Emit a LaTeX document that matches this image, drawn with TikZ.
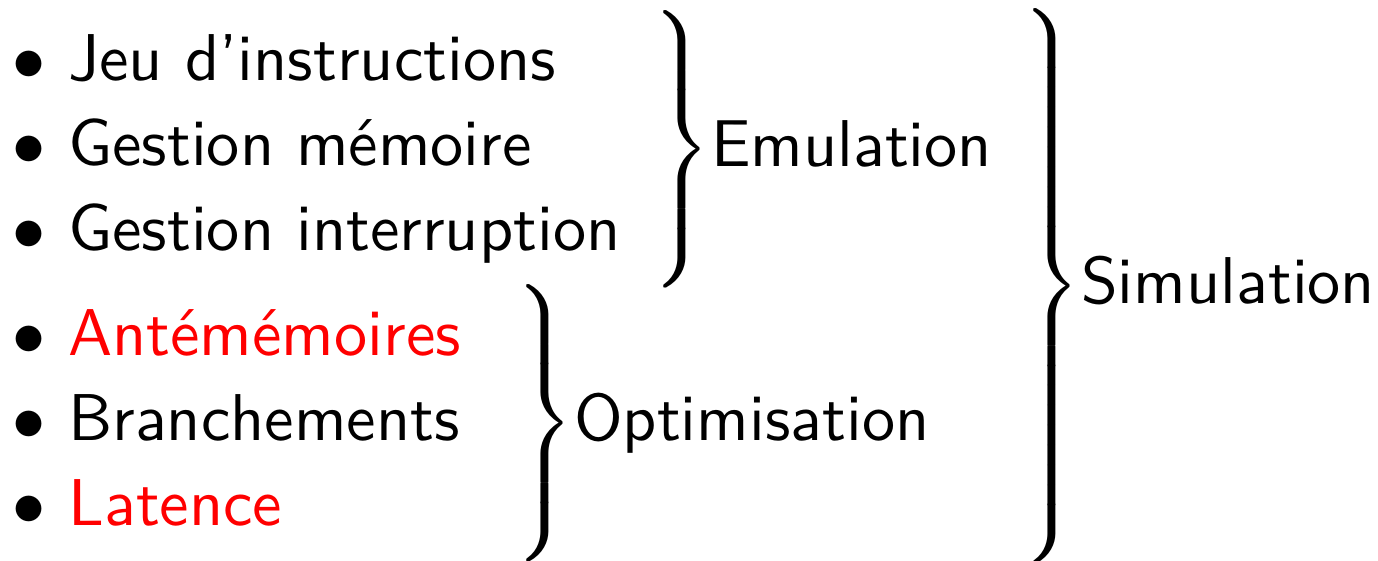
\documentclass[tikz,border=0pt]{standalone}
\usepackage{xcolor}
% a right brace of (at least) the given height, followed by its label
\newcommand\bracegroup[2]{$\delimiterfactor=1000\delimitershortfall=0pt\left.\vcenter to #1{\vfil}\right\}$#2}
\tikzset{
  itemtext/.style={anchor=base west, inner sep=0pt, font=\sffamily},
  itembullet/.style={anchor=base, inner sep=0pt},
  group/.style={anchor=base west, inner sep=0pt, font=\sffamily},
}
\begin{document}
\begin{tikzpicture}[x=0.15106pt, y=-0.15106pt]
  \useasboundingbox (0,0) rectangle (1378,561);
  % bullets
  \node[itembullet] (b1) at (29.5,80.5) {$\bullet$};
  \node[itembullet] (b2) at (29.5,165.5) {$\bullet$};
  \node[itembullet] (b3) at (29.5,250.5) {$\bullet$};
  \node[itembullet] (b4) at (29.5,355) {$\bullet$};
  \node[itembullet] (b5) at (29.5,440) {$\bullet$};
  \node[itembullet] (b6) at (29.5,525) {$\bullet$};
  % items
  \node[itemtext] (t1) at (67,80.5) {Jeu d'instructions};
  \node[itemtext] (t2) at (67,165.5) {Gestion mémoire};
  \node[itemtext] (t3) at (67,250.5) {Gestion interruption};
  \node[itemtext, text=red] (t4) at (67,355) {Antémémoires};
  \node[itemtext] (t5) at (67,440) {Branchements};
  \node[itemtext, text=red] (t6) at (67,525) {Latence};
  % groups
  \node[group] (emu) at (643,166) {\bracegroup{41pt}{Emulation}};
  \node[group] (opt) at (506,440) {\bracegroup{41pt}{Optimisation}};
  \node[group] (sim) at (1013,303) {\bracegroup{83pt}{Simulation}};
\end{tikzpicture}
\end{document}
